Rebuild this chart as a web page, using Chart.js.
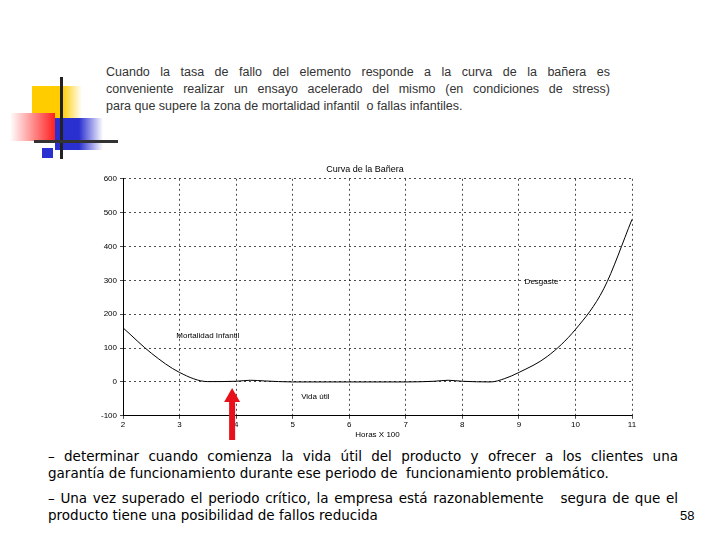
<!DOCTYPE html>
<html><head><meta charset="utf-8">
<script src="https://cdn.jsdelivr.net/npm/chart.js@4/dist/chart.umd.min.js"></script>
<style>
body{margin:0;width:720px;height:540px;background:#fff;position:relative;overflow:hidden;font-family:Arial,"Liberation Sans",sans-serif}
.abs{position:absolute}
.j{text-align:justify;text-align-last:justify;white-space:nowrap}
.j.l{text-align-last:left}
#top{left:106px;top:64px;width:504px;font-size:12.5px;line-height:17px;color:#333}
.bot{left:48px;width:630px;font-family:"DejaVu Sans",sans-serif;font-size:13.5px;line-height:17px;color:#000}
#wrap{left:90px;top:164px;width:548px;height:276px}
</style></head><body>
<div class="abs" style="left:32px;top:86px;width:50px;height:32px;background:linear-gradient(90deg,#ffcc00 60%,#fff)"></div>
<div class="abs" style="left:55px;top:118px;width:48px;height:32px;background:linear-gradient(90deg,#2a2fd0 50%,#fff)"></div>
<div class="abs" style="left:10px;top:113px;width:45px;height:28px;background:linear-gradient(90deg,#fff,#ff2020)"></div>
<div class="abs" style="left:42px;top:148px;width:11px;height:10px;background:#2a2fd0"></div>
<div class="abs" style="left:60px;top:77px;width:3px;height:82px;background:#222"></div>
<div class="abs" style="left:34px;top:140px;width:84px;height:3px;background:#333"></div>
<div id="top" class="abs">
<div class="j">Cuando la tasa de fallo del elemento responde a la curva de la bañera es</div>
<div class="j">conveniente realizar un ensayo acelerado del mismo (en condiciones de stress)</div>
<div class="j l">para que supere la zona de mortalidad infantil&nbsp; o fallas infantiles.</div>
</div>
<div id="wrap" class="abs"><canvas id="c"></canvas></div>
<div class="abs bot" style="top:448px">
<div class="j">– determinar cuando comienza la vida útil del producto y ofrecer a los clientes una</div>
<div class="j l">garantía de funcionamiento durante ese periodo de&nbsp; funcionamiento problemático.</div>
</div>
<div class="abs bot" style="top:490px">
<div class="j">– Una vez superado el periodo crítico, la empresa está razonablemente&nbsp;&nbsp; segura de que el</div>
<div class="j l">producto tiene una posibilidad de fallos reducida</div>
</div>
<div class="abs" style="left:680px;top:508px;font-size:13px;font-family:Arial">58</div>
<script>
const hours = [2, 2.5, 3, 3.5, 4, 4.25, 4.5, 5, 6, 7, 7.5, 7.75, 8, 8.5, 8.75, 9, 9.5, 10, 10.5, 11];
const rate = [160, 85, 28, 1, 2, 5, 3, 0, 0, 0, 2, 5, 2, 0, 10, 28, 75, 155, 275, 480];
const xTicks = [2, 3, 4, 5, 6, 7, 8, 9, 10, 11];
const notes = [
  {x: 3.5, y: 135, t: 'Mortalidad Infantil'},
  {x: 5.4, y: -45, t: 'Vida útil'},
  {x: 9.4, y: 295, t: 'Desgaste'}
];
const tiny = {size: 8, family: 'Arial'};
const extras = {
  id: 'extras',
  afterDraw(chart) {
    const {ctx, scales: {x, y}} = chart;
    ctx.save();
    ctx.fillStyle = '#000';
    ctx.font = '8px Arial';
    ctx.textAlign = 'center';
    ctx.textBaseline = 'middle';
    notes.forEach(n => ctx.fillText(n.t, x.getPixelForValue(n.x), y.getPixelForValue(n.y)));
    // red arrow pointing at x=4
    const ax = x.getPixelForValue(4) - 4;
    const tip = y.getPixelForValue(0) + 6;
    ctx.fillStyle = '#e8101a';
    ctx.beginPath();
    ctx.moveTo(ax, tip);
    ctx.lineTo(ax - 8, tip + 14);
    ctx.lineTo(ax + 8, tip + 14);
    ctx.closePath();
    ctx.fill();
    ctx.fillRect(ax - 3, tip + 13, 6, 56);
    ctx.restore();
  }
};
new Chart(document.getElementById('c'), {
  type: 'line',
  data: {datasets: [{data: hours.map((h, i) => ({x: h, y: rate[i]})), borderColor: '#000', borderWidth: 1, pointRadius: 0, cubicInterpolationMode: 'monotone'}]},
  options: {
    responsive: true, maintainAspectRatio: false, animation: false,
    layout: {padding: {left: 8, right: 6, bottom: 0}},
    plugins: {legend: {display: false}, tooltip: {enabled: false},
      title: {display: true, text: 'Curva de la Bañera', font: {size: 9, family: 'Arial', weight: 'normal'}, color: '#000', padding: {top: 0, bottom: 4}}},
    scales: {
      x: {type: 'linear', min: 2, max: 11, afterBuildTicks: s => { s.ticks = xTicks.map(v => ({value: v})); },
        grid: {color: '#000', lineWidth: 0.7, tickLength: 3}, border: {dash: [2, 3], color: '#000'},
        ticks: {font: tiny, color: '#000', padding: 1},
        title: {display: true, text: 'Horas X 100', font: tiny, color: '#000', padding: 0}},
      y: {min: -100, max: 600, ticks: {stepSize: 100, font: tiny, color: '#000'},
        grid: {color: '#000', lineWidth: 0.7, tickLength: 3}, border: {dash: [2, 3], color: '#000'}}
    }
  },
  plugins: [extras]
});
</script>
</body></html>
